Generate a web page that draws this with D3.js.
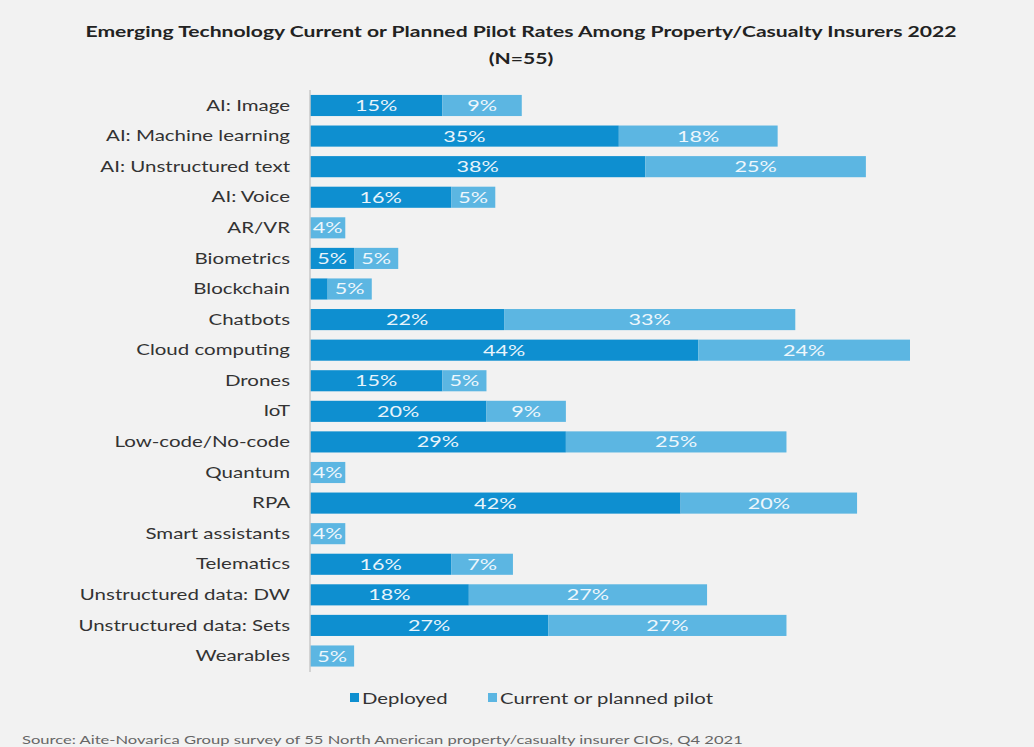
<!DOCTYPE html>
<html>
<head>
<meta charset="utf-8">
<script src="https://cdn.jsdelivr.net/npm/d3@7"></script>
<style>
  body { margin: 0; background: #f2f2f2; }
  svg { display: block; font-family: Lato, "Open Sans", sans-serif; }
</style>
</head>
<body>
<svg id="chart"></svg>
<script>
// data (percent of insurers)
var categories = ["AI: Image", "AI: Machine learning", "AI: Unstructured text", "AI: Voice", "AR/VR",
    "Biometrics", "Blockchain", "Chatbots", "Cloud computing", "Drones", "IoT", "Low-code/No-code",
    "Quantum", "RPA", "Smart assistants", "Telematics", "Unstructured data: DW",
    "Unstructured data: Sets", "Wearables"];
var deployed = [15, 35, 38, 16, 0, 5, 2, 22, 44, 15, 20, 29, 0, 42, 0, 16, 18, 27, 0];
var pilot    = [9, 18, 25, 5, 4, 5, 5, 33, 24, 5, 9, 25, 4, 20, 4, 7, 27, 27, 5];
var showDeployedLabel = [1,1,1,1,0,1,0,1,1,1,1,1,0,1,0,1,1,1,0];
var seriesNames = ["Deployed", "Current or planned pilot"];
var colors = ["#0e8fd0", "#5cb6e2"];

var W = 1034, H = 747;
var svg = d3.select('#chart').attr('width', W).attr('height', H);

// the original text is drawn wide, so stretch it sideways
function wideText(parent, x, y, sx) {
    return parent.append('text')
        .attr('transform', 'translate(' + x + ',' + y + ') scale(' + sx + ',1)');
}

var x0 = 310;
var scaleX = d3.scaleLinear().domain([0, 68]).range([x0, 910]);
var scaleY = d3.scaleBand().domain(categories).range([90.2, 671.3]).paddingInner(0.31).paddingOuter(0.155);

// title
wideText(svg, 521, 37, 1.32).attr('text-anchor', 'middle')
    .attr('font-size', 16).attr('font-weight', 'bold').attr('fill', '#222')
    .text('Emerging Technology Current or Planned Pilot Rates Among Property/Casualty Insurers 2022');
wideText(svg, 521, 64, 1.32).attr('text-anchor', 'middle')
    .attr('font-size', 16).attr('font-weight', 'bold').attr('fill', '#222')
    .text('(N=55)');

// rows
var rows = categories.map(function(c, i) {
    return {cat: c, dep: deployed[i], pil: pilot[i], showDep: showDeployedLabel[i]};
});

var g = svg.append('g');

g.selectAll('rect.dep').data(rows).enter().append('rect')
    .attr('x', scaleX(0))
    .attr('y', function(d) { return scaleY(d.cat); })
    .attr('width', function(d) { return scaleX(d.dep) - scaleX(0); })
    .attr('height', scaleY.bandwidth())
    .attr('fill', colors[0]);

g.selectAll('rect.pil').data(rows).enter().append('rect')
    .attr('x', function(d) { return scaleX(d.dep); })
    .attr('y', function(d) { return scaleY(d.cat); })
    .attr('width', function(d) { return scaleX(d.dep + d.pil) - scaleX(d.dep); })
    .attr('height', scaleY.bandwidth())
    .attr('fill', colors[1]);

// value labels
var labelStretch = 1.35;
g.selectAll('text.dep').data(rows.filter(function(d) { return d.showDep; })).enter().append('text')
    .attr('transform', function(d) {
        var cx = (scaleX(0) + scaleX(d.dep)) / 2;
        var cy = scaleY(d.cat) + scaleY.bandwidth() / 2 + 5.5;
        return 'translate(' + cx + ',' + cy + ') scale(' + labelStretch + ',1)';
    })
    .attr('text-anchor', 'middle').attr('font-size', 16).attr('fill', '#e8f4fb')
    .text(function(d) { return d.dep + '%'; });

g.selectAll('text.pil').data(rows).enter().append('text')
    .attr('transform', function(d) {
        var cx = (scaleX(d.dep) + scaleX(d.dep + d.pil)) / 2;
        var cy = scaleY(d.cat) + scaleY.bandwidth() / 2 + 5.5;
        return 'translate(' + cx + ',' + cy + ') scale(' + labelStretch + ',1)';
    })
    .attr('text-anchor', 'middle').attr('font-size', 16).attr('fill', '#eef7fc')
    .text(function(d) { return d.pil + '%'; });

// category axis
var catStretch = 1.28;
var yAxis = d3.axisLeft(scaleY).tickSize(0).tickPadding(20);
var yAxisG = svg.append('g').attr('transform', 'translate(' + x0 + ',0)').call(yAxis);
yAxisG.select('.domain').attr('stroke', '#c8c8c8').attr('stroke-width', 1.5)
    .attr('d', 'M0,' + 90 + 'V' + 672);
yAxisG.selectAll('text').attr('font-size', 16).attr('fill', '#333')
    .attr('x', -20 / catStretch)
    .attr('transform', 'scale(' + catStretch + ',1)')
    .style('font-family', 'Lato, "Open Sans", sans-serif');

// legend
var legendX = [350, 488];
seriesNames.forEach(function(name, i) {
    svg.append('rect').attr('x', legendX[i]).attr('y', 693).attr('width', 9).attr('height', 9)
        .attr('fill', colors[i]);
    wideText(svg, legendX[i] + 12, 704, 1.27)
        .attr('font-size', 16).attr('fill', '#333').text(name);
});

// source
wideText(svg, 22, 744, 1.38).attr('font-size', 12).attr('fill', '#666')
    .text('Source: Aite-Novarica Group survey of 55 North American property/casualty insurer CIOs, Q4 2021');
</script>
</body>
</html>
